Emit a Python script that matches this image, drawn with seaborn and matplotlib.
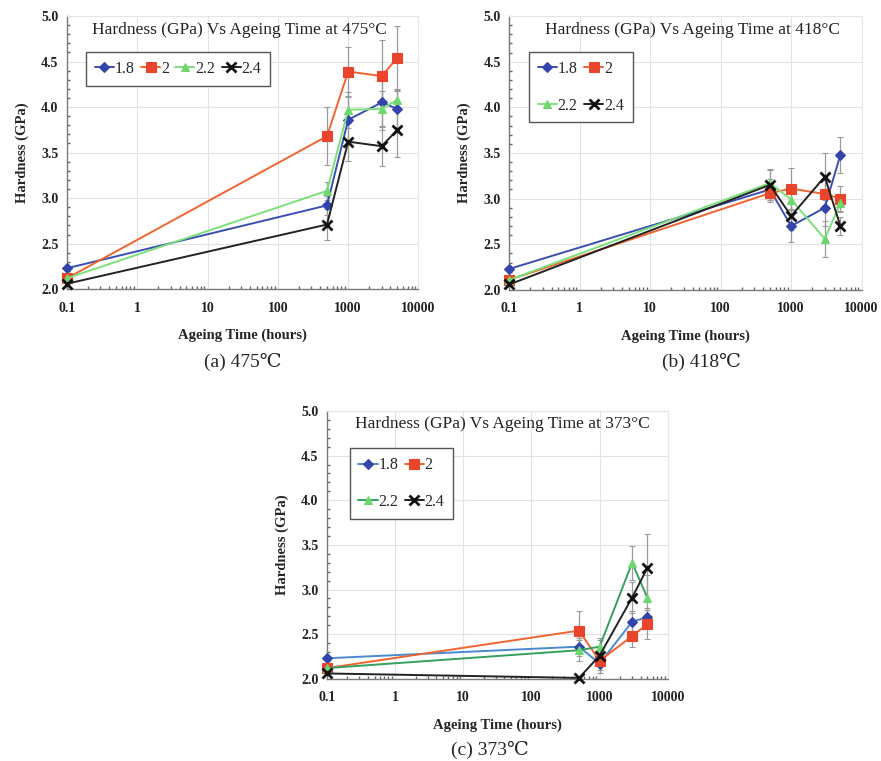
import numpy as np
import pandas as pd
import matplotlib
matplotlib.use("Agg")
import matplotlib.pyplot as plt
import seaborn as sns

# ageing times (hours)
times = [0.1, 500, 1000, 3000, 5000]
series = ["1.8", "2", "2.2", "2.4"]

# hardness (GPa) at 475 C
h475_18 = [2.23, 2.92, 3.86, 4.05, 3.98]
h475_20 = [2.12, 3.68, 4.39, 4.34, 4.54]
h475_22 = [2.12, 3.08, 3.97, 3.98, 4.08]
h475_24 = [2.06, 2.71, 3.62, 3.57, 3.75]
e475_18 = [0, 0.10, 0.25, 0.30, 0.20]
e475_20 = [0, 0.32, 0.27, 0.40, 0.35]
e475_22 = [0, 0.10, 0.20, 0.20, 0.12]
e475_24 = [0, 0.17, 0.21, 0.22, 0.30]

# hardness (GPa) at 418 C
h418_18 = [2.23, 3.10, 2.70, 2.90, 3.48]
h418_20 = [2.11, 3.06, 3.11, 3.05, 3.00]
h418_22 = [2.11, 3.17, 2.99, 2.56, 2.95]
h418_24 = [2.06, 3.15, 2.81, 3.24, 2.70]
e418_18 = [0, 0.12, 0.18, 0.20, 0.20]
e418_20 = [0, 0.10, 0.22, 0.15, 0.14]
e418_22 = [0, 0.15, 0.10, 0.20, 0.10]
e418_24 = [0, 0.16, 0.15, 0.26, 0.10]

# hardness (GPa) at 373 C
h373_18 = [2.23, 2.36, 2.17, 2.64, 2.69]
h373_20 = [2.12, 2.54, 2.20, 2.48, 2.61]
h373_22 = [2.12, 2.32, 2.36, 3.30, 2.91]
h373_24 = [2.06, 2.01, 2.26, 2.91, 3.24]
e373_18 = [0, 0.10, 0.10, 0.12, 0.10]
e373_20 = [0, 0.22, 0.10, 0.12, 0.16]
e373_22 = [0, 0.12, 0.08, 0.19, 0.25]
e373_24 = [0, 0.01, 0.20, 0.17, 0.38]

sns.set_theme(style="whitegrid")
plt.rcParams["font.family"] = ["Liberation Serif", "DejaVu Serif", "Noto Sans CJK SC"]

SERIF = ["Liberation Serif", "DejaVu Serif", "Noto Sans CJK SC"]
markers = {"1.8": "D", "2": "s", "2.2": "^", "2.4": "x"}
msize = {"1.8": 5, "2": 6.5, "2.2": 6, "2.4": 7}


def draw_panel(ax, temp, values, errors, line_colors, marker_colors, legend_cols, legend_box, title_x):
    for s, y, e, lc, mc in zip(series, values, errors, line_colors, marker_colors):
        ax.errorbar(times, y, yerr=e, fmt="none", ecolor="#9a9a9a", elinewidth=0.9,
                    capsize=2.5, capthick=0.8, zorder=2)
        df = pd.DataFrame({"time": times, "hardness": y})
        sns.lineplot(data=df, x="time", y="hardness", ax=ax, color=lc, linewidth=1.4,
                     marker=markers[s], markersize=msize[s], markerfacecolor=mc,
                     markeredgecolor=mc, markeredgewidth=2.0 if s == "2.4" else 0.8,
                     label=s, zorder=3, clip_on=False)
    ax.set_xscale("log")
    ax.set_xlim(0.1, 10000)
    ax.set_ylim(2.0, 5.0)
    ax.set_xticks([0.1, 1, 10, 100, 1000, 10000])
    ax.set_xticklabels(["0.1", "1", "10", "100", "1000", "10000"])
    ax.set_yticks(np.arange(2.0, 5.01, 0.5))
    ax.set_yticklabels([f"{v:.1f}" for v in np.arange(2.0, 5.01, 0.5)])
    ax.yaxis.set_minor_locator(matplotlib.ticker.MultipleLocator(0.1))
    ax.grid(True, which="major", color="#e2e2e2", linewidth=0.8)
    ax.grid(False, which="minor")
    ax.tick_params(axis="both", which="both", direction="in", colors="#666666",
                   labelcolor="#222222", labelsize=10)
    ax.tick_params(which="major", length=3)
    ax.tick_params(axis="x", which="major", pad=9)
    ax.tick_params(axis="y", which="major", pad=6)
    ax.tick_params(which="minor", length=2.5, bottom=True, left=True)
    for lab in ax.get_xticklabels() + ax.get_yticklabels():
        lab.set_fontweight("bold")
    for side in ["left", "bottom"]:
        ax.spines[side].set_color("#7a7a7a")
        ax.spines[side].set_linewidth(1.0)
    for side in ["top", "right"]:
        ax.spines[side].set_color("#e6e6e6")
        ax.spines[side].set_linewidth(0.8)
    ax.set_xlabel("Ageing Time (hours)", fontsize=10.5, fontweight="bold", labelpad=10)
    ax.set_ylabel("Hardness (GPa)", fontsize=10.5, fontweight="bold", labelpad=9)
    ax.text(title_x, 0.95, f"Hardness (GPa) Vs Ageing Time at {temp}°C", transform=ax.transAxes,
            ha="right", va="center", fontsize=12.5, color="#222222")
    handles, labels = ax.get_legend_handles_labels()
    if legend_cols == 2:
        # row-wise order: 1.8, 2 / 2.2, 2.4
        order = [0, 2, 1, 3]
        handles = [handles[i] for i in order]
        labels = [labels[i] for i in order]
    leg = ax.legend(handles, labels, ncol=legend_cols, loc="upper left",
                    bbox_to_anchor=legend_box, borderaxespad=0, fontsize=11.5,
                    handlelength=1.2, handletextpad=0.05, columnspacing=0.4,
                    labelspacing=1.3 if legend_cols == 2 else 0.5,
                    borderpad=0.55, fancybox=False, framealpha=1, edgecolor="#555555")
    leg.get_frame().set_linewidth(1.0)


fig = plt.figure(figsize=(8.81, 7.61), dpi=100)
ax_a = fig.add_axes([0.076, 0.620, 0.399, 0.359])
ax_b = fig.add_axes([0.578, 0.619, 0.400, 0.360])
ax_c = fig.add_axes([0.371, 0.108, 0.387, 0.352])

draw_panel(ax_a, 475,
           [h475_18, h475_20, h475_22, h475_24],
           [e475_18, e475_20, e475_22, e475_24],
           ["#3a4fb0", "#f0642f", "#7be07b", "#222222"],
           ["#3344aa", "#e8452c", "#6ed86e", "#111111"],
           4, (0.054, 0.868), 0.91)
draw_panel(ax_b, 418,
           [h418_18, h418_20, h418_22, h418_24],
           [e418_18, e418_20, e418_22, e418_24],
           ["#3a4fb0", "#f0642f", "#7be07b", "#222222"],
           ["#3344aa", "#e8452c", "#6ed86e", "#111111"],
           2, (0.056, 0.868), 0.94)
draw_panel(ax_c, 373,
           [h373_18, h373_20, h373_22, h373_24],
           [e373_18, e373_20, e373_22, e373_24],
           ["#4a88d0", "#f0642f", "#35a060", "#222222"],
           ["#3344aa", "#e8452c", "#6ed86e", "#111111"],
           2, (0.067, 0.86), 0.947)

fig.text(0.276, 0.524, "(a) 475℃", ha="center", va="center", fontsize=14, family=SERIF)
fig.text(0.796, 0.524, "(b) 418℃", ha="center", va="center", fontsize=14, family=SERIF)
fig.text(0.556, 0.015, "(c) 373℃", ha="center", va="center", fontsize=14, family=SERIF)

fig.savefig("out.png", dpi=100, facecolor="white")
